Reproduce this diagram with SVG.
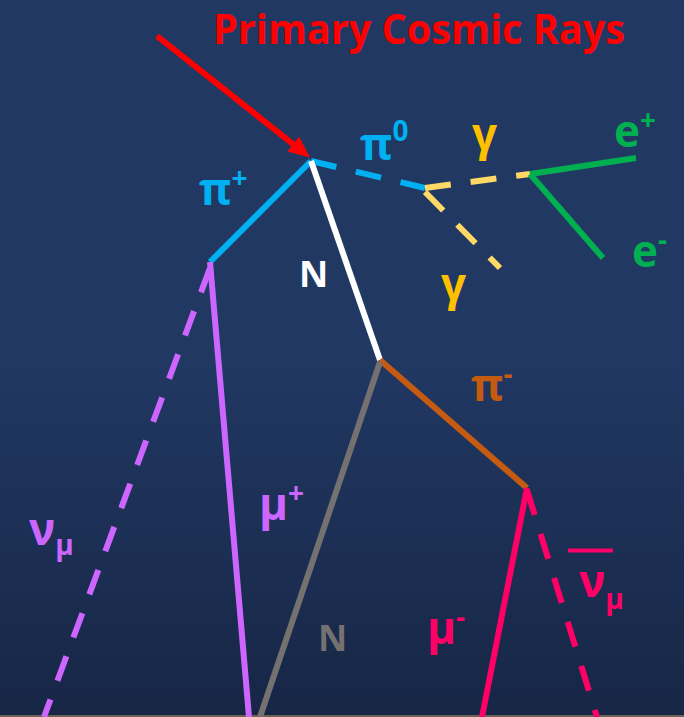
<svg xmlns="http://www.w3.org/2000/svg" width="684" height="717" viewBox="0 0 684 717">
<defs>
<linearGradient id="bg" x1="0" y1="0" x2="0" y2="1">
<stop offset="0" stop-color="#213863"/>
<stop offset="0.5" stop-color="#213863"/>
<stop offset="1" stop-color="#172645"/>
</linearGradient>
<marker id="arr" markerWidth="3.6" markerHeight="3.2" refX="3.6" refY="1.6" orient="auto" markerUnits="strokeWidth">
<path d="M0,0 L3.6,1.6 L0,3.2 Z" fill="#FF0000"/>
</marker>
<style>
.lbl{font-family:"Open Sans","Liberation Sans",sans-serif;font-weight:bold;}
.ln{fill:none;stroke-width:6;}
.d{stroke-dasharray:26,20;}
</style>
</defs>
<rect width="684" height="717" fill="url(#bg)"/>
<rect x="0" y="715" width="684" height="2" fill="#6b6456"/>

<g id="title"><text class="lbl" x="213" y="44" font-size="42" fill="#FF0000" textLength="412" lengthAdjust="spacingAndGlyphs">Primary Cosmic Rays</text></g>

<g id="connectors">
<line x1="157" y1="36" x2="296" y2="146.5" stroke="#FF0000" stroke-width="6"/>
<line x1="157" y1="36" x2="310" y2="157.5" stroke="#FF0000" stroke-width="6" stroke-opacity="0" marker-end="url(#arr)"/>
<line class="ln" x1="311" y1="161" x2="210" y2="262" stroke="#00B0F0"/>
<line class="ln d" x1="311" y1="161" x2="425" y2="188" stroke="#00B0F0"/>
<line class="ln" x1="311" y1="161" x2="380" y2="360" stroke="#FFFFFF"/>
<line class="ln d" x1="425" y1="188" x2="530" y2="174" stroke="#FFD966"/>
<line class="ln d" x1="425" y1="192" x2="500" y2="268" stroke="#FFD966"/>
<line class="ln" x1="530" y1="174" x2="636" y2="158" stroke="#00B050"/>
<line class="ln" x1="530" y1="174" x2="603" y2="258" stroke="#00B050"/>
<line class="ln" x1="380" y1="360" x2="527" y2="488" stroke="#C55A11"/>
<line class="ln" x1="380" y1="362" x2="260" y2="717" stroke="#767171"/>
<line class="ln" x1="210" y1="262" x2="249" y2="717" stroke="#CC66FF"/>
<line class="ln d" x1="210" y1="268" x2="44" y2="717" stroke="#CC66FF"/>
<line class="ln" x1="527" y1="488" x2="482" y2="717" stroke="#FF0066"/>
<line class="ln d" x1="527" y1="490" x2="597" y2="717" stroke="#FF0066"/>
</g>

<g id="pi-plus"><text class="lbl" x="199" y="205" font-size="44" fill="#00B0F0">π<tspan dy="-17" font-size="28">+</tspan></text></g>
<g id="pi-zero"><text class="lbl" x="360" y="160" font-size="44" fill="#00B0F0">π<tspan dy="-19" font-size="28">0</tspan></text></g>
<g id="gamma1"><text class="lbl" x="472" y="150" font-size="44" fill="#FFC000">γ</text></g>
<g id="gamma2"><text class="lbl" x="441" y="300" font-size="44" fill="#FFC000">γ</text></g>
<g id="e-plus"><text class="lbl" x="614" y="147" font-size="44" fill="#00B050">e<tspan dy="-17" font-size="28">+</tspan></text></g>
<g id="e-minus"><text class="lbl" x="632" y="267" font-size="44" fill="#00B050">e<tspan dy="-17" font-size="28">-</tspan></text></g>
<g id="N1"><text class="lbl" x="299" y="287" font-size="36" fill="#FFFFFF">N</text></g>
<g id="pi-minus"><text class="lbl" x="471" y="401" font-size="44" fill="#C55A11">π<tspan dy="-17" font-size="28">-</tspan></text></g>
<g id="mu-plus"><text class="lbl" x="259" y="520" font-size="44" fill="#CC66FF">μ<tspan dy="-17" font-size="28">+</tspan></text></g>
<g id="nu-mu"><text class="lbl" x="29" y="545" font-size="44" fill="#CC66FF">ν<tspan dy="10" font-size="28">μ</tspan></text></g>
<g id="N2"><text class="lbl" x="318" y="651" font-size="36" fill="#767171">N</text></g>
<g id="mu-minus"><text class="lbl" x="427" y="644" font-size="44" fill="#FF0066">μ<tspan dy="-17" font-size="28">-</tspan></text></g>
<g id="anti-nu-mu"><line x1="568" y1="550.5" x2="613" y2="550.5" stroke="#FF0066" stroke-width="4"/><text class="lbl" x="579" y="597" font-size="44" fill="#FF0066">ν<tspan dy="12" font-size="28">μ</tspan></text></g>
</svg>
